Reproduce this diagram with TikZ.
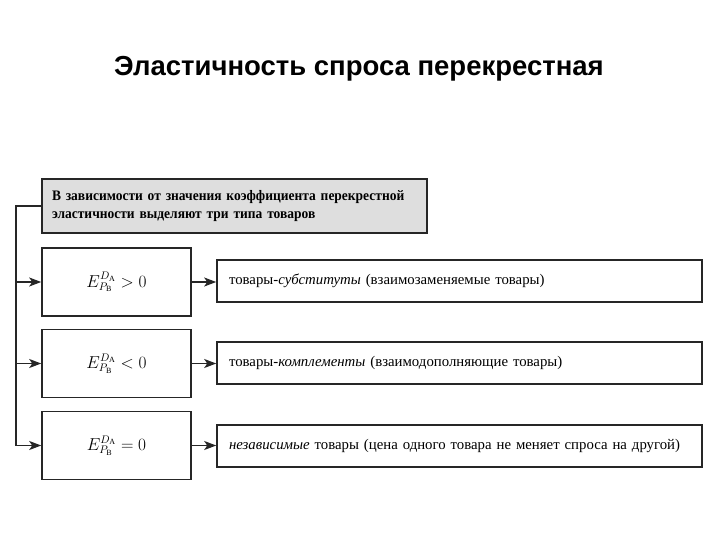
\documentclass[tikz,border=0pt]{standalone}
\usepackage{fontspec}
\setmainfont{Liberation Serif}
\newfontfamily\titlefont{Liberation Sans}
\newfontfamily\headfont[FakeStretch=0.93]{Liberation Serif}
\usetikzlibrary{arrows.meta,calc}
\definecolor{hdrgray}{HTML}{DEDEDE}
\tikzset{
  box/.style={draw=black!85, line width=1.6pt, inner sep=0pt},
  hdrbox/.style={box, fill=hdrgray, minimum width=385pt, minimum height=54pt, text width=365pt, align=left, font=\headfont\bfseries\fontsize{14.5}{18}\selectfont},
  fbox/.style={box, minimum width=149pt, minimum height=68pt, font=\fontsize{16}{18}\selectfont},
  rbox/.style={box, minimum width=485pt, minimum height=42pt, text width=461pt, align=left, font=\fontsize{14.8}{18}\selectfont},
  conn/.style={line width=1.3pt, draw=black!85},
  arr/.style={conn, -{Stealth[length=12pt,width=9pt,inset=3pt]}}
}
\begin{document}
\begin{tikzpicture}[x=1pt,y=-1pt]
\useasboundingbox (0,0) rectangle (720,540);
\node[font=\titlefont\bfseries\fontsize{27.5}{32}\selectfont] (title) at (359,69) {Эластичность спроса перекрестная};
\node[hdrbox] (hdr) at (234.5,206) {В зависимости от значения коэффициента перекрестной\\ эластичности выделяют три типа товаров};
\node[fbox] (f1) at (116.5,282) {$E^{D_{\mathrm{A}}}_{P_{\mathrm{B}}} > 0$};
\node[fbox] (f2) at (116.5,363.5) {$E^{D_{\mathrm{A}}}_{P_{\mathrm{B}}} < 0$};
\node[fbox] (f3) at (116.5,445.5) {$E^{D_{\mathrm{A}}}_{P_{\mathrm{B}}} = 0$};
\node[rbox] (r1) at (459.5,281) {товары-\textit{субституты} (взаимозаменяемые товары)};
\node[rbox] (r2) at (459.5,363) {товары-\textit{комплементы} (взаимодополняющие товары)};
\node[rbox] (r3) at (459.5,446) {\textit{независимые} товары (цена одного товара не меняет спроса на другой)};
\coordinate (top) at (16,206);
\coordinate (j1) at (16,282);
\coordinate (j2) at (16,363.5);
\coordinate (j3) at (16,445.5);
\draw[conn] (hdr.west) -- (top) -- (j3);
\draw[arr] (j1) -- (f1.west);
\draw[arr] (j2) -- (f2.west);
\draw[arr] (j3) -- (f3.west);
\draw[arr] (f1.east) -- (f1.east -| r1.west);
\draw[arr] (f2.east) -- (f2.east -| r2.west);
\draw[arr] (f3.east) -- (f3.east -| r3.west);
\end{tikzpicture}
\end{document}
